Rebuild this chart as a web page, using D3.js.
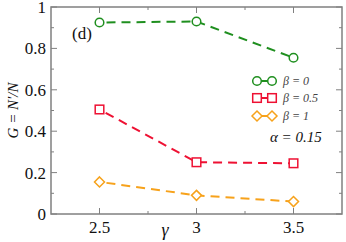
<!DOCTYPE html>
<html><head><meta charset="utf-8">
<script src="https://cdn.jsdelivr.net/npm/d3@7"></script>
</head><body style="margin:0;background:#fff"><svg id="c" width="346" height="242" style="display:block"></svg>
<script>
const gammas = [2.5, 3, 3.5];
const beta0 = [0.925, 0.93, 0.755];
const beta05 = [0.505, 0.25, 0.245];
const beta1 = [0.155, 0.09, 0.06];
const xTicks = [2.5, 3, 3.5];
const yTicks = [0, 0.2, 0.4, 0.6, 0.8, 1];
const yTickLabels = ["0", "0.2", "0.4", "0.6", "0.8", "1"];
const seriesNames = ["β = 0", "β = 0.5", "β = 1"];

const FONT = "Times New Roman";
const svg = d3.select("#c");
const L = 51, R = 342, T = 7, B = 214;
const x = d3.scaleLinear().domain([2.25, 3.75]).range([L, R]);
const y = d3.scaleLinear().domain([0, 1]).range([B, T]);
const axisColor = "#808080";

function txt(parent) {
  return parent.append("text").style("font-family", `"${FONT}"`);
}

svg.append("rect").attr("x", L).attr("y", T).attr("width", R - L).attr("height", B - T)
  .attr("fill", "none").attr("stroke", axisColor).attr("stroke-width", 1.5);

const xMinor = d3.range(2.5, 3.51, 0.25);
const yMinor = d3.range(0, 1.001, 0.1);
const g = svg.append("g").attr("stroke", axisColor).attr("stroke-width", 1);
xMinor.forEach(v => {
  const major = xTicks.includes(v);
  const len = major ? 6 : 3;
  g.append("line").attr("x1", x(v)).attr("x2", x(v)).attr("y1", B).attr("y2", B - len);
  g.append("line").attr("x1", x(v)).attr("x2", x(v)).attr("y1", T).attr("y2", T + len);
});
yMinor.forEach(v => {
  const major = Math.abs(Math.round(v * 5) - v * 5) < 1e-6;
  const len = major ? 6 : 3;
  g.append("line").attr("x1", L).attr("x2", L + len).attr("y1", y(v)).attr("y2", y(v));
  g.append("line").attr("x1", R).attr("x2", R - len).attr("y1", y(v)).attr("y2", y(v));
});

xTicks.forEach(d => {
  txt(svg).attr("x", x(d)).attr("y", 233).attr("text-anchor", "middle")
    .style("font-size", "17px").attr("fill", "#111").text(d);
});
yTicks.forEach((d, i) => {
  txt(svg).attr("x", 46).attr("y", y(d) + 6).attr("text-anchor", "end")
    .style("font-size", "17px").attr("fill", "#111").text(yTickLabels[i]);
});

txt(svg).attr("x", 165).attr("y", 236).attr("text-anchor", "middle")
  .style("font-size", "18px").style("font-style", "italic").attr("fill", "#111").text("γ");
txt(svg).attr("transform", `translate(18,${(T + B) / 2}) rotate(-90)`)
  .attr("text-anchor", "middle").style("font-size", "15px").style("font-style", "italic").attr("fill", "#111")
  .text("G = N′/N");

txt(svg).attr("x", 72).attr("y", 39).style("font-size", "17px").attr("fill", "#111").text("(d)");

const series = [
  {vals: beta0, color: "#1f8f1f", shape: "circle"},
  {vals: beta05, color: "#ee1133", shape: "square"},
  {vals: beta1, color: "#f7a21b", shape: "diamond"}
];
const line = d3.line().x((d, i) => x(gammas[i])).y(d => y(d));

function marker(sel, shape, cx, cy, color) {
  if (shape === "circle") {
    sel.append("circle").attr("cx", cx).attr("cy", cy).attr("r", 4.3)
      .attr("fill", "#fff").attr("stroke", color).attr("stroke-width", 1.5);
  } else if (shape === "square") {
    sel.append("rect").attr("x", cx - 4.3).attr("y", cy - 4.3).attr("width", 8.6).attr("height", 8.6)
      .attr("fill", "#fff").attr("stroke", color).attr("stroke-width", 1.5);
  } else {
    sel.append("path").attr("d", `M${cx},${cy - 5}L${cx + 5},${cy}L${cx},${cy + 5}L${cx - 5},${cy}Z`)
      .attr("fill", "#fff").attr("stroke", color).attr("stroke-width", 1.5);
  }
}

series.forEach(s => {
  svg.append("path").datum(s.vals).attr("d", line).attr("fill", "none")
    .attr("stroke", s.color).attr("stroke-width", 2).attr("stroke-dasharray", "9,6")
    .attr("stroke-dashoffset", -7);
  const mg = svg.append("g");
  s.vals.forEach((v, i) => marker(mg, s.shape, x(gammas[i]), y(v), s.color));
});

const legY = [81, 98, 116];
series.forEach((s, i) => {
  const lg = svg.append("g");
  lg.append("line").attr("x1", 257).attr("x2", 272).attr("y1", legY[i]).attr("y2", legY[i])
    .attr("stroke", s.color).attr("stroke-width", 2);
  marker(lg, s.shape, 257, legY[i], s.color);
  marker(lg, s.shape, 272, legY[i], s.color);
  txt(lg).attr("x", 283).attr("y", legY[i] + 4).style("font-size", "12px")
    .style("font-style", "italic").attr("fill", "#444").text(seriesNames[i]);
});
txt(svg).attr("x", 270).attr("y", 142).style("font-size", "15px")
  .style("font-style", "italic").attr("fill", "#111").text("α = 0.15");
</script></body></html>
